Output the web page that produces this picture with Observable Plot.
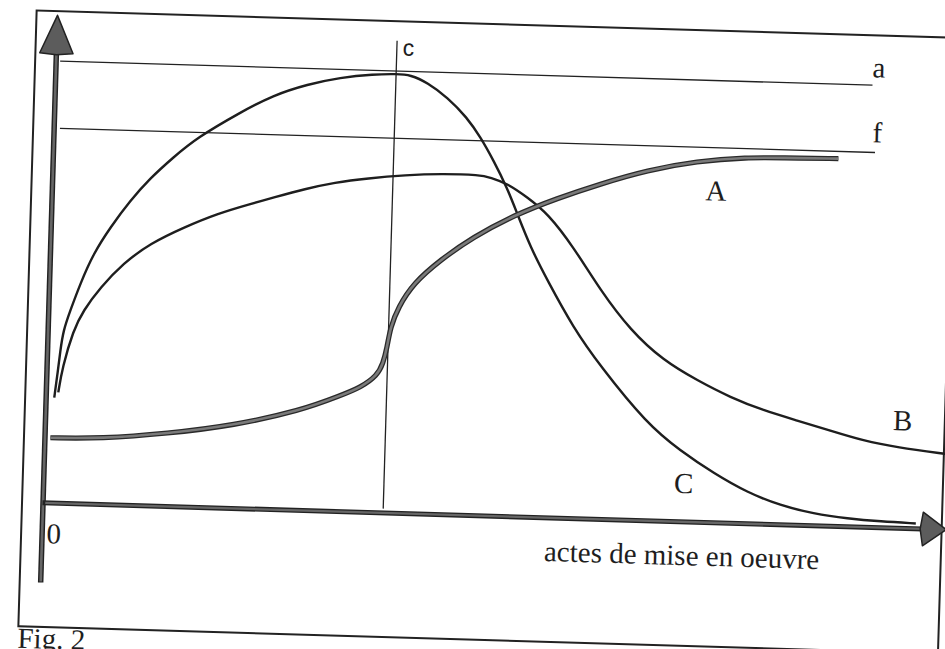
<!DOCTYPE html>
<html><head><meta charset="utf-8">
<script src="https://cdn.jsdelivr.net/npm/d3@7"></script>
<script src="https://cdn.jsdelivr.net/npm/@observablehq/plot@0.6"></script>
<style>
html,body{margin:0;padding:0;background:#fff;overflow:hidden;width:945px;height:649px}
#wrap{position:absolute;left:0;top:0;width:950px;transform-origin:472px 325px;transform:rotate(1.7deg)}
#cap{font-family:"Liberation Serif",serif;font-size:29px;line-height:29px;margin:-5px 0 0 27px;color:#1e1e1e}
</style></head><body>
<div id="wrap"><div id="chart"></div><div id="cap">Fig. 2</div></div>
<script>
// Curve A (thick grey)
const xA = [0.6,6.2,13.6,20.9,28.3,32.7,34.9,36.7,37.3,37.7,38.0,38.8,40.4,43.3,46.9,51.3,56.1,60.9,66.0,71.5,77.1,80.8,87.2];
const yA = [13.6,13.75,15.2,17.3,20.8,24.2,26.0,28.6,31.1,34.5,38.7,42.9,48.0,53.0,58.0,62.75,66.6,69.9,73.0,75.2,76.3,76.4,76.6];
// Curve B
const xB = [1.33,1.7,2.79,3.84,5.66,8.13,11.07,14.7,18.4,22.0,24.6,28.1,31.3,35.0,39.2,43.1,47.5,48.6,50.5,52.8,55.1,58.1,61.2,64.7,68.4,72.3,76.0,79.7,83.5,87.2,90.9,94.7,99.9,101.5];
const yB = [23.1,28.3,36.1,40.3,45.2,50.4,54.7,58.2,61.3,63.5,65.0,67.0,68.5,69.6,70.5,71.0,71.0,70.5,69.4,66.6,63.4,56.5,47.7,39.5,33.5,29.5,26.2,23.7,21.8,19.9,18.0,16.8,15.8,15.5];
// Curve C
const xC = [0.9,1.2,1.42,1.68,2.39,3.42,4.77,6.57,8.7,10.8,13.3,15.9,20.6,24.2,28.0,31.6,35.3,37.9,39.4,41.3,43.6,45.8,47.4,48.9,50.5,51.7,53.3,55.3,58.3,61.4,66.8,70.6,74.4,78.2,81.9,85.6,89.4,93.1,97.0];
const yC = [22.0,27.3,31.8,36.0,40.2,45.9,52.2,57.8,63.5,68.2,72.7,77.0,82.5,86.3,88.8,90.4,91.3,91.5,91.4,89.9,86.9,82.9,78.8,74.1,68.5,63.2,56.2,49.4,39.8,32.0,20.2,14.8,10.3,6.5,4.0,2.5,1.7,1.3,1.1];

// Horizontal levels a and f
const levelNames = ["a","f"];
const levelValues = [92.1,78.1];
const levelStart = [0.5,0.7];
const levelEnd = [90.8,91.3];
const levelLabelX = [90.7,90.9];
const levelLabelY = [93.75,80.2];

// Vertical marker c
const cName = "c";
const cValue = 37.8;
const cRange = [0.8,98.3];

// Curve labels
const curveNames = ["A","B","C"];
const curveLabelX = [73.7,95.2,71.1];
const curveLabelY = [67.1,20.4,6.0];

// Axes
const xAxisLabel = "actes de mise en oeuvre";
const originLabel = "0";
const yAxisExtent = [-16.7, 94.0];
const yArrowTip = 101.6;
const xAxisExtent = [0, 97.8];
const xArrowTip = 100.4;

const toRows = (xs, ys) => xs.map((x, i) => ({x, y: ys[i]}));
const A = toRows(xA, yA), B = toRows(xB, yB), C = toRows(xC, yC);
const levels = levelNames.map((n, i) => ({name: n, value: levelValues[i], x1: levelStart[i], x2: levelEnd[i], lx: levelLabelX[i], ly: levelLabelY[i]}));
const curveLabels = curveNames.map((n, i) => ({name: n, x: curveLabelX[i], y: curveLabelY[i]}));

// arrowheads (closed triangles built from axis tips)
const yArrow = [
  {x: 0, y: yArrowTip}, {x: 1.85, y: yAxisExtent[1] - 0.3}, {x: 0, y: yAxisExtent[1] - 0.6},
  {x: -1.85, y: yAxisExtent[1] - 0.3}, {x: 0, y: yArrowTip}
];
const xArrow = [
  {x: xArrowTip, y: 0}, {x: xAxisExtent[1], y: 3.5}, {x: xAxisExtent[1] - 0.3, y: 0},
  {x: xAxisExtent[1], y: -3.5}, {x: xArrowTip, y: 0}
];

const serif = "Liberation Serif";
const ink = "#1e1e1e";
const smooth = "basis";

const chart = Plot.plot({
  width: 950, height: 642,
  marginLeft: 27, marginTop: 23, marginRight: 3, marginBottom: 3,
  x: {domain: [0, 100], range: [48, 948], axis: null},
  y: {domain: [0, 100], range: [515, 35], axis: null},
  style: {background: "transparent", overflow: "visible"},
  marks: [
    Plot.frame({stroke: "#222", strokeWidth: 2}),
    // levels a, f
    Plot.ruleY(levels, {y: "value", x1: "x1", x2: "x2", stroke: "#222", strokeWidth: 1.3}),
    Plot.text(levels, {x: "lx", y: "ly", text: "name", textAnchor: "start", lineAnchor: "bottom", fontFamily: serif, fontSize: 29, fill: ink}),
    // vertical c
    Plot.ruleX([cValue], {y1: cRange[0], y2: cRange[1], stroke: "#222", strokeWidth: 1.3}),
    Plot.text([cName], {x: cValue + 1.3, y: 96.9, text: d => d, textAnchor: "middle", lineAnchor: "middle", fontFamily: "Liberation Sans", fontSize: 23, fill: ink}),
    // axes
    Plot.ruleX([0], {y1: yAxisExtent[0], y2: yAxisExtent[1], stroke: "#222", strokeWidth: 5.5}),
    Plot.ruleX([0], {y1: yAxisExtent[0] + 0.2, y2: yAxisExtent[1], stroke: "#666", strokeWidth: 2.6}),
    Plot.ruleY([0], {x1: xAxisExtent[0], x2: xAxisExtent[1], stroke: "#222", strokeWidth: 5}),
    Plot.ruleY([0], {x1: xAxisExtent[0] + 0.3, x2: xAxisExtent[1], stroke: "#666", strokeWidth: 2.3}),
    Plot.line(yArrow, {x: "x", y: "y", fill: "#5c5c5c", stroke: "#222", strokeWidth: 1.5, curve: "linear"}),
    Plot.line(xArrow, {x: "x", y: "y", fill: "#5c5c5c", stroke: "#222", strokeWidth: 1.5, curve: "linear"}),
    // curves
    Plot.line(C, {x: "x", y: "y", stroke: "#1e1e1e", strokeWidth: 2.4, curve: smooth, strokeLinecap: "butt"}),
    Plot.line(B, {x: "x", y: "y", stroke: "#1e1e1e", strokeWidth: 2.4, curve: smooth, strokeLinecap: "butt"}),
    Plot.line(A, {x: "x", y: "y", stroke: "#2a2a2a", strokeWidth: 5.2, curve: smooth, strokeLinecap: "butt"}),
    Plot.line(A, {x: "x", y: "y", stroke: "#7a7a7a", strokeWidth: 2.6, curve: smooth, strokeLinecap: "butt"}),
    // labels
    Plot.text(curveLabels, {x: "x", y: "y", text: "name", textAnchor: "middle", lineAnchor: "bottom", fontFamily: serif, fontSize: 29, fill: ink}),
    Plot.text([originLabel], {x: 1.3, y: -8.4, text: d => d, textAnchor: "middle", lineAnchor: "bottom", fontFamily: serif, fontSize: 29, fill: ink}),
    Plot.text([xAxisLabel], {x: 55.8, y: -9.0, text: d => d, textAnchor: "start", lineAnchor: "bottom", fontFamily: serif, fontSize: 29, fill: ink})
  ]
});
document.getElementById("chart").appendChild(chart);
</script>
</body></html>
